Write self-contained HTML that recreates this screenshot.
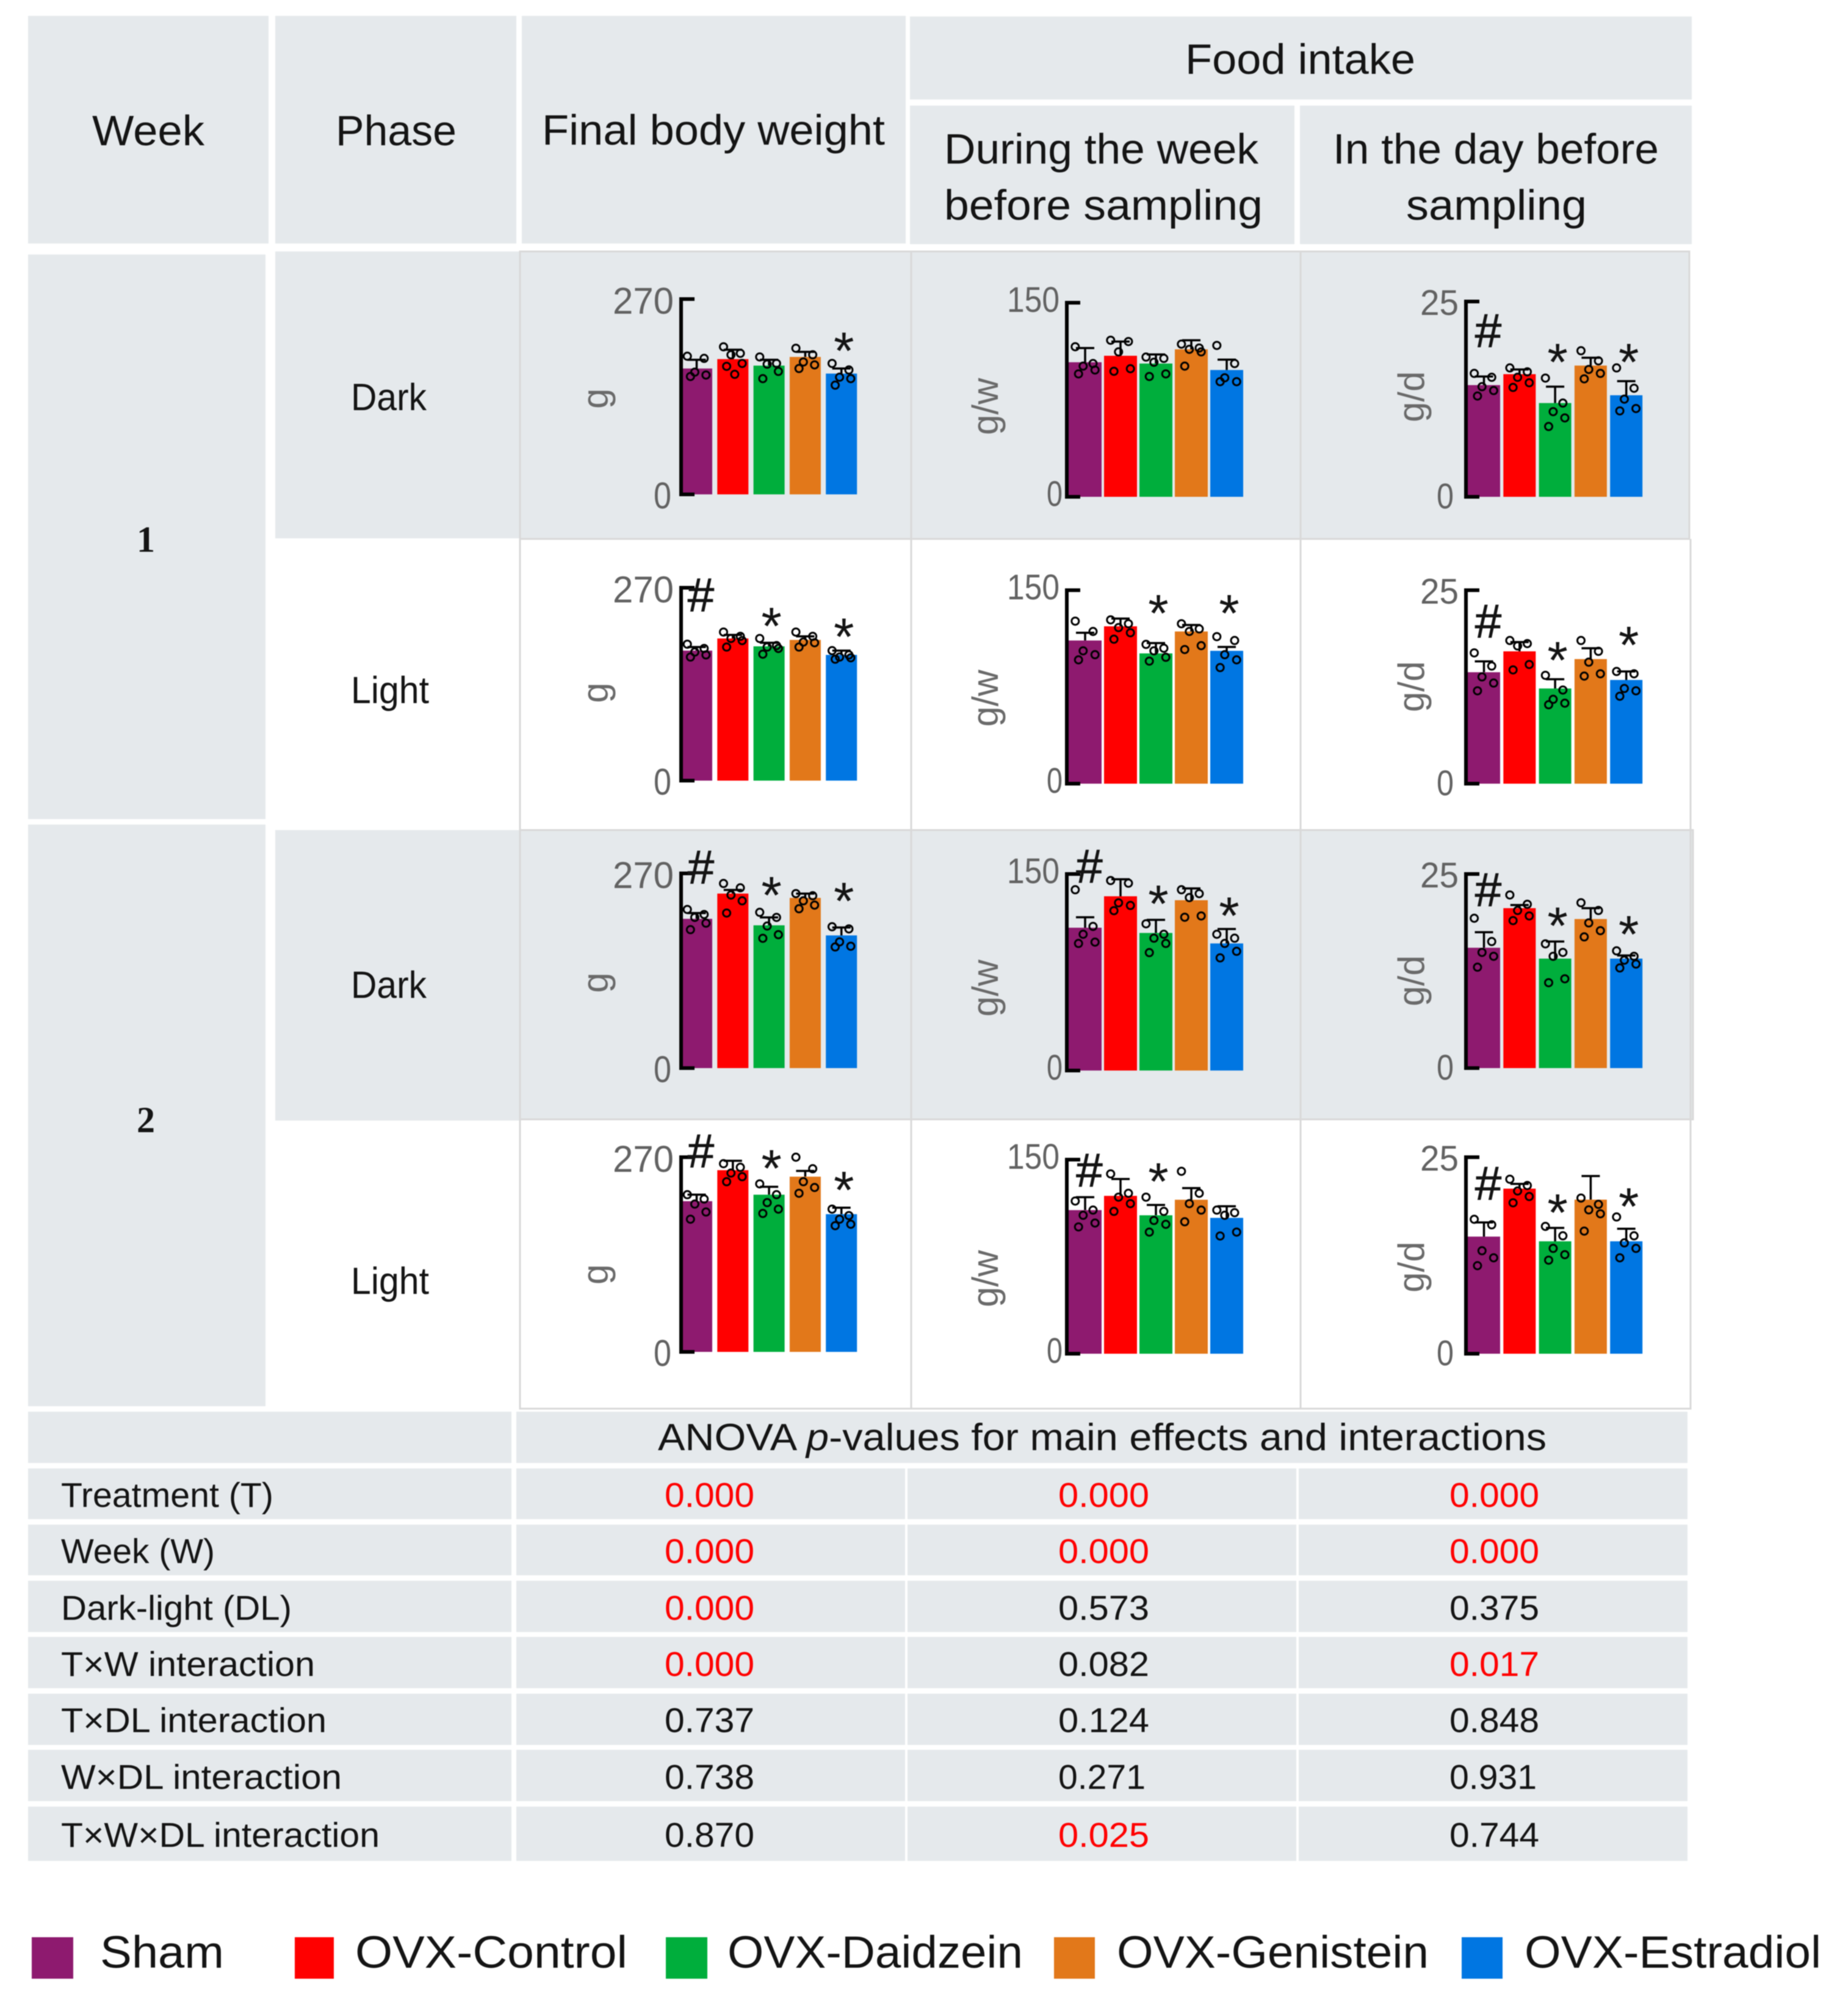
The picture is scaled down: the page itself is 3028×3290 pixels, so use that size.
<!DOCTYPE html>
<html lang="en">
<head>
<meta charset="utf-8">
<title>Body weight and food intake by week and phase</title>
<style>
html,body{margin:0;padding:0;background:#fff;width:3028px;height:3290px;overflow:hidden}
svg{display:block;filter:blur(0.9px)}
text{font-family:"Liberation Sans",sans-serif;fill:#141414}
.h{font-size:70px}
.p{font-size:62px}
.t{font-size:57px}
.r{fill:#ff0000}
.l{font-size:74px}
.c{fill:#e5e9ec}
</style>
</head>
<body>
<svg id="root" xmlns="http://www.w3.org/2000/svg" width="3028" height="3290" viewBox="0 0 3028 3290">
<rect width="3028" height="3290" fill="#fff"/>

<g>
<rect class="c" x="46" y="26" width="394" height="373"/>
<rect class="c" x="451" y="26" width="395" height="373"/>
<rect class="c" x="855" y="26" width="629" height="373"/>
<rect class="c" x="1491" y="27" width="1281" height="136"/>
<rect class="c" x="1491" y="173" width="630" height="227"/>
<rect class="c" x="2130" y="173" width="642" height="227"/>
<text class="h" x="151" y="238" textLength="184" lengthAdjust="spacingAndGlyphs">Week</text>
<text class="h" x="550" y="238" textLength="198" lengthAdjust="spacingAndGlyphs">Phase</text>
<text class="h" x="888" y="237" textLength="562" lengthAdjust="spacingAndGlyphs">Final body weight</text>
<text class="h" x="1942" y="121" textLength="377" lengthAdjust="spacingAndGlyphs">Food intake</text>
<text class="h" x="1547" y="268" textLength="515" lengthAdjust="spacingAndGlyphs">During the week</text>
<text class="h" x="1547" y="360" textLength="522" lengthAdjust="spacingAndGlyphs">before sampling</text>
<text class="h" x="2184" y="268" textLength="534" lengthAdjust="spacingAndGlyphs">In the day before</text>
<text class="h" x="2304" y="360" textLength="296" lengthAdjust="spacingAndGlyphs">sampling</text>
</g>

<g>
<rect class="c" x="46" y="417" width="389" height="925"/>
<rect class="c" x="46" y="1351" width="389" height="953"/>
<rect class="c" x="451" y="412" width="402" height="470"/>
<rect class="c" x="451" y="1360" width="402" height="476"/>
<text x="239" y="904" text-anchor="middle" font-size="60" font-weight="700" style="font-family:'Liberation Serif',serif">1</text>
<text x="239" y="1855" text-anchor="middle" font-size="60" font-weight="700" style="font-family:'Liberation Serif',serif">2</text>
<text class="p" x="575" y="672" textLength="124" lengthAdjust="spacingAndGlyphs">Dark</text>
<text class="p" x="575" y="1152" textLength="128" lengthAdjust="spacingAndGlyphs">Light</text>
<text class="p" x="575" y="1635" textLength="124" lengthAdjust="spacingAndGlyphs">Dark</text>
<text class="p" x="575" y="2120" textLength="128" lengthAdjust="spacingAndGlyphs">Light</text>
</g>

<g id="panel-backgrounds">
<rect class="c" x="852" y="412" width="1916" height="471"/>
<rect class="c" x="852" y="1360" width="1922" height="474"/>
<path fill="none" stroke="#d9d9d9" stroke-width="3" d="M852 412H2768V883H852ZM1493 412V2308M2131 412V2308M852 883V2308H2770V883M852 1360H2774V1834H852M2770 883V1360"/>
</g>

<g id="panels"></g>

<g>
<rect class="c" x="46" y="2313" width="792" height="84"/>
<rect class="c" x="846" y="2313" width="1919" height="84"/>
<text class="t" x="1078" y="2376" textLength="1456" lengthAdjust="spacingAndGlyphs" style="font-size:62px">ANOVA <tspan font-style="italic">p</tspan>-values for main effects and interactions</text>

<g>
<rect class="c" x="46" y="2406" width="792" height="83"/><rect class="c" x="846" y="2406" width="637" height="83"/><rect class="c" x="1487" y="2406" width="637" height="83"/><rect class="c" x="2128" y="2406" width="637" height="83"/>
<text class="t" x="100" y="2469" textLength="348" lengthAdjust="spacingAndGlyphs">Treatment (T)</text>
<text class="t r" x="1089" y="2469" textLength="147" lengthAdjust="spacingAndGlyphs">0.000</text>
<text class="t r" x="1734" y="2469" textLength="149" lengthAdjust="spacingAndGlyphs">0.000</text>
<text class="t r" x="2375" y="2469" textLength="147" lengthAdjust="spacingAndGlyphs">0.000</text>
</g>
<g>
<rect class="c" x="46" y="2498" width="792" height="83"/><rect class="c" x="846" y="2498" width="637" height="83"/><rect class="c" x="1487" y="2498" width="637" height="83"/><rect class="c" x="2128" y="2498" width="637" height="83"/>
<text class="t" x="100" y="2561" textLength="252" lengthAdjust="spacingAndGlyphs">Week (W)</text>
<text class="t r" x="1089" y="2561" textLength="147" lengthAdjust="spacingAndGlyphs">0.000</text>
<text class="t r" x="1734" y="2561" textLength="149" lengthAdjust="spacingAndGlyphs">0.000</text>
<text class="t r" x="2375" y="2561" textLength="147" lengthAdjust="spacingAndGlyphs">0.000</text>
</g>
<g>
<rect class="c" x="46" y="2590" width="792" height="84"/><rect class="c" x="846" y="2590" width="637" height="84"/><rect class="c" x="1487" y="2590" width="637" height="84"/><rect class="c" x="2128" y="2590" width="637" height="84"/>
<text class="t" x="100" y="2654" textLength="378" lengthAdjust="spacingAndGlyphs">Dark-light (DL)</text>
<text class="t r" x="1089" y="2654" textLength="147" lengthAdjust="spacingAndGlyphs">0.000</text>
<text class="t" x="1734" y="2654" textLength="149" lengthAdjust="spacingAndGlyphs">0.573</text>
<text class="t" x="2375" y="2654" textLength="147" lengthAdjust="spacingAndGlyphs">0.375</text>
</g>
<g>
<rect class="c" x="46" y="2682" width="792" height="84"/><rect class="c" x="846" y="2682" width="637" height="84"/><rect class="c" x="1487" y="2682" width="637" height="84"/><rect class="c" x="2128" y="2682" width="637" height="84"/>
<text class="t" x="100" y="2746" textLength="416" lengthAdjust="spacingAndGlyphs">T×W interaction</text>
<text class="t r" x="1089" y="2746" textLength="147" lengthAdjust="spacingAndGlyphs">0.000</text>
<text class="t" x="1734" y="2746" textLength="149" lengthAdjust="spacingAndGlyphs">0.082</text>
<text class="t r" x="2375" y="2746" textLength="147" lengthAdjust="spacingAndGlyphs">0.017</text>
</g>
<g>
<rect class="c" x="46" y="2775" width="792" height="84"/><rect class="c" x="846" y="2775" width="637" height="84"/><rect class="c" x="1487" y="2775" width="637" height="84"/><rect class="c" x="2128" y="2775" width="637" height="84"/>
<text class="t" x="100" y="2838" textLength="435" lengthAdjust="spacingAndGlyphs">T×DL interaction</text>
<text class="t" x="1089" y="2838" textLength="147" lengthAdjust="spacingAndGlyphs">0.737</text>
<text class="t" x="1734" y="2838" textLength="149" lengthAdjust="spacingAndGlyphs">0.124</text>
<text class="t" x="2375" y="2838" textLength="147" lengthAdjust="spacingAndGlyphs">0.848</text>
</g>
<g>
<rect class="c" x="46" y="2867" width="792" height="84"/><rect class="c" x="846" y="2867" width="637" height="84"/><rect class="c" x="1487" y="2867" width="637" height="84"/><rect class="c" x="2128" y="2867" width="637" height="84"/>
<text class="t" x="100" y="2931" textLength="460" lengthAdjust="spacingAndGlyphs">W×DL interaction</text>
<text class="t" x="1089" y="2931" textLength="147" lengthAdjust="spacingAndGlyphs">0.738</text>
<text class="t" x="1734" y="2931" textLength="143" lengthAdjust="spacingAndGlyphs">0.271</text>
<text class="t" x="2375" y="2931" textLength="143" lengthAdjust="spacingAndGlyphs">0.931</text>
</g>
<g>
<rect class="c" x="46" y="2960" width="792" height="89"/><rect class="c" x="846" y="2960" width="637" height="89"/><rect class="c" x="1487" y="2960" width="637" height="89"/><rect class="c" x="2128" y="2960" width="637" height="89"/>
<text class="t" x="100" y="3026" textLength="522" lengthAdjust="spacingAndGlyphs">T×W×DL interaction</text>
<text class="t" x="1089" y="3026" textLength="147" lengthAdjust="spacingAndGlyphs">0.870</text>
<text class="t r" x="1734" y="3026" textLength="149" lengthAdjust="spacingAndGlyphs">0.025</text>
<text class="t" x="2375" y="3026" textLength="147" lengthAdjust="spacingAndGlyphs">0.744</text>
</g>
</g>

<g>
<g><rect x="52" y="3174" width="68" height="68" fill="#8e1a6f"/><text class="l" x="164" y="3224" textLength="203" lengthAdjust="spacingAndGlyphs">Sham</text></g>
<g><rect x="483" y="3174" width="64" height="68" fill="#ff0000"/><text class="l" x="582" y="3224" textLength="446" lengthAdjust="spacingAndGlyphs">OVX-Control</text></g>
<g><rect x="1091" y="3174" width="68" height="68" fill="#00ae3c"/><text class="l" x="1192" y="3224" textLength="484" lengthAdjust="spacingAndGlyphs">OVX-Daidzein</text></g>
<g><rect x="1727" y="3174" width="67" height="68" fill="#e2781a"/><text class="l" x="1830" y="3224" textLength="511" lengthAdjust="spacingAndGlyphs">OVX-Genistein</text></g>
<g><rect x="2395" y="3174" width="67" height="68" fill="#0076e2"/><text class="l" x="2498" y="3224" textLength="486" lengthAdjust="spacingAndGlyphs">OVX-Estradiol</text></g>
</g>
</svg>

<script>
/* ---- data, in axis units; panels run row by row: final weight, weekly intake, daily intake ---- */
const groupNames = ["sham", "ovx-control", "ovx-daidzein", "ovx-genistein", "ovx-estradiol"];
const panelNames = [
  "w1-dark-weight", "w1-dark-week-intake", "w1-dark-day-intake",
  "w1-light-weight", "w1-light-week-intake", "w1-light-day-intake",
  "w2-dark-weight", "w2-dark-week-intake", "w2-dark-day-intake",
  "w2-light-weight", "w2-light-week-intake", "w2-light-day-intake"
];
const yTickLabels = [["0", "270"], ["0", "150"], ["0", "25"]];
const yAxisTitles = ["g", "g/w", "g/d"];

const barMeans = [
  [174, 187, 178, 190, 167], [104, 109, 103, 114, 98], [14.3, 15.7, 12.0, 16.8, 13.0],
  [182, 199, 188, 197, 176], [111, 122, 101, 118, 103], [14.4, 17.1, 12.3, 16.1, 13.4],
  [207, 242, 198, 236, 184], [109, 133, 105, 130, 97], [15.5, 20.6, 14.1, 19.2, 14.1],
  [209, 252, 218, 243, 191], [111, 122, 107, 119, 105], [14.9, 21.0, 14.3, 19.6, 14.3]
];
const errorTops = [
  [186, 200, 186, 197, 174], [115, 120, 110, 121, 106], [15.4, 16.3, 14.1, 17.8, 14.8],
  [187, 204, 193, 202, 182], [117, 128, 109, 123, 106], [15.8, 18.3, 13.5, 17.5, 14.5],
  [215, 247, 209, 242, 195], [117, 146, 115, 139, 108], [17.5, 21.0, 16.3, 20.6, 14.5],
  [218, 265, 229, 251, 200], [121, 135, 115, 128, 114], [16.7, 21.6, 16.0, 22.6, 15.9]
];
const w1DarkDots = [
  [[191, 188, 169, 165, 163], [204, 195, 193, 181, 177, 166], [190, 181, 180, 170, 160], [202, 193, 183, 179, 174], [181, 172, 162, 160, 151]],
  [[116, 103, 101, 98, 95], [121, 120, 112, 99, 97], [108, 107, 104, 95, 93], [118, 115, 114, 112, 101], [117, 103, 92, 89, 89]],
  [[15.8, 15.3, 14.1, 13.6, 12.9], [16.5, 16.0, 15.3, 14.6, 14.0], [15.2, 12.0, 10.9, 10.1, 9.0], [18.7, 17.4, 16.3, 15.8, 15.1], [16.5, 13.9, 12.5, 11.3, 11.0]]
];
const w1LightDots = [
  [[191, 185, 180, 176, 173], [208, 202, 199, 196, 187], [199, 189, 187, 185, 177], [208, 202, 194, 193, 187], [182, 176, 173, 172, 170]],
  [[126, 118, 103, 100, 96], [127, 124, 121, 117, 112], [108, 105, 103, 98, 95], [124, 120, 118, 107, 104], [114, 111, 100, 96, 90]],
  [[16.9, 15.2, 13.8, 13.0, 12.0], [18.5, 18.1, 17.8, 15.4, 14.7], [14.0, 12.1, 10.9, 10.4, 10.2], [18.5, 17.1, 15.7, 14.2, 13.9], [14.5, 14.2, 12.3, 12.0, 11.3]]
];
const w2DarkDots = [
  [[220, 213, 209, 201, 192], [256, 250, 240, 232, 215], [216, 209, 197, 185, 180], [242, 239, 232, 226, 221], [196, 193, 175, 169, 168]],
  [[138, 110, 104, 98, 97], [145, 143, 128, 126, 122], [112, 104, 101, 97, 90], [138, 135, 132, 118, 117], [104, 101, 97, 91, 86]],
  [[19.3, 16.3, 14.9, 14.4, 13.0], [22.3, 21.1, 20.3, 19.6, 19.0], [16.0, 14.9, 14.4, 11.5, 11.0], [21.3, 20.3, 18.7, 17.7, 16.9], [15.1, 14.4, 13.9, 13.4, 12.9]]
];
const w2LightDots = [
  [[218, 212, 205, 194, 184], [261, 256, 248, 243, 236], [233, 218, 207, 198, 192], [270, 254, 236, 228, 220], [198, 189, 184, 177, 175]],
  [[118, 111, 107, 101, 98], [139, 124, 121, 116, 110], [121, 110, 103, 100, 94], [141, 124, 116, 111, 102], [111, 109, 107, 94, 91]],
  [[17.1, 16.4, 13.1, 12.2, 11.2], [22.2, 21.4, 20.7, 20.0, 19.2], [16.2, 15.0, 13.4, 12.6, 11.9], [19.8, 19.0, 18.3, 17.8, 15.6], [17.4, 15.0, 14.1, 13.4, 12.2]]
];
const sampleDots = [...w1DarkDots, ...w1LightDots, ...w2DarkDots, ...w2LightDots];

/* significance markers per panel: [group index, axis value of the symbol centre] */
const hashMarkers = [null, null, [0, 21.3], [0, 260], null, [0, 21], [0, 279], [0, 156], [0, 23], [0, 279], [0, 142], [0, 21.7]];
const starMarkers = [
  [[4, 209]], [], [[2, 18.2], [4, 18.2]],
  [[2, 227], [4, 212]], [[2, 138], [4, 138]], [[2, 16.9], [4, 18.9]],
  [[2, 250], [4, 242]], [[2, 133], [4, 124]], [[2, 19.3], [4, 18.2]],
  [[2, 265], [4, 235]], [[2, 139]], [[2, 18.9], [4, 19.7]]
];

/* ---- layout ---- */
const barColors = ["#8e1a6f", "#ff0000", "#00ae3c", "#e2781a", "#0076e2"];
const plotLeft = [1116, 1751, 2405];
const spineX = [1116, 1748, 2402];
const barStep = [59.3, 58, 58.3];
const barWidth = [51, 54, 53];
const plotTops = [490, 496, 494, 963, 967, 967, 1431, 1432, 1432, 1896, 1900, 1896];
const plotBottoms = [810, 814, 814, 1279, 1284, 1284, 1750, 1754, 1750, 2215, 2218, 2218];
const titleCenterY = [653, 666, 650, 1135, 1144, 1125, 1610, 1619, 1607, 2088, 2095, 2076];
const titleCenterX = [987, 1626, 2324];
const topTickWidth = [100, 86, 63];
const zeroTickWidth = [29, 26, 28];
const zeroTickGap = [16, 7, 20];
const tickFontSize = [61, 58, 58];
const topTickDrop = [24, 15, 22];
const zeroTickDrop = [23, 15, 19];
const dotSpread = [-0.3, 0.24, -0.06, 0.3, -0.2, 0.06];

const NS = "http://www.w3.org/2000/svg";
const panelsRoot = document.getElementById("panels");

function make(tag, parent, attrs) {
  const el = document.createElementNS(NS, tag);
  for (const k in attrs) el.setAttribute(k, attrs[k]);
  parent.appendChild(el);
  return el;
}

function drawPanel(p) {
  const col = p % 3;
  const top = plotTops[p];
  const bottom = plotBottoms[p];
  const axisMax = parseFloat(yTickLabels[col][1]);
  const yScale = v => bottom - (v / axisMax) * (bottom - top);
  const xBar = i => plotLeft[col] + i * barStep[col];
  const xMid = i => xBar(i) + barWidth[col] / 2;

  const g = make("g", panelsRoot, {});
  
  

  barMeans[p].forEach((v, i) => {
    const bar = make("rect", g, { x: xBar(i), y: yScale(v), width: barWidth[col], height: bottom - yScale(v), fill: barColors[i] });
    
    
  });

  const axis = make("path", g, {
    d: "M" + (spineX[col] + 22) + " " + top + "H" + spineX[col] + "V" + bottom + "H" + (spineX[col] + 22),
    fill: "none", stroke: "#000", "stroke-width": 6
  });
  
  

  const zeroTick = make("text", g, {
    x: spineX[col] - zeroTickGap[col] - zeroTickWidth[col], y: bottom + zeroTickDrop[col], "font-size": tickFontSize[col],
    textLength: zeroTickWidth[col], lengthAdjust: "spacingAndGlyphs", style: "fill:#626262"
  });
  zeroTick.textContent = yTickLabels[col][0];
  
  

  const maxTick = make("text", g, {
    x: spineX[col] - 12 - topTickWidth[col], y: top + topTickDrop[col], "font-size": tickFontSize[col],
    textLength: topTickWidth[col], lengthAdjust: "spacingAndGlyphs", style: "fill:#626262"
  });
  maxTick.textContent = yTickLabels[col][1];
  
  

  const tx = titleCenterX[col] + 9;
  const ty = titleCenterY[p];
  const title = make("text", g, { x: tx, y: ty, "text-anchor": "middle", "font-size": 60, transform: "rotate(-90 " + tx + " " + ty + ")", style: "fill:#6a6a6a" });
  title.textContent = yAxisTitles[col];
  
  

  errorTops[p].forEach((v, i) => {
    const err = make("path", g, {
      d: "M" + xMid(i) + " " + yScale(barMeans[p][i]) + "V" + yScale(v) + "M" + (xMid(i) - 15) + " " + yScale(v) + "H" + (xMid(i) + 15),
      fill: "none", stroke: "#000", "stroke-width": 3.5
    });
    
    
  });

  sampleDots[p].forEach((vals, i) => {
    vals.forEach((v, j) => {
      const dot = make("circle", g, {
        cx: xMid(i) + dotSpread[j % dotSpread.length] * barWidth[col],
        cy: yScale(v), r: 6, fill: "none", stroke: "#000", "stroke-width": 3
      });
      
      
    });
  });

  if (hashMarkers[p]) {
    const [i, v] = hashMarkers[p];
    const hash = make("text", g, { x: xMid(i) + 7, y: yScale(v) + 27, "text-anchor": "middle", "font-size": 78, style: "fill:#141414;stroke:#141414;stroke-width:1" });
    hash.textContent = "#";
    
    
  }
  starMarkers[p].forEach(([i, v]) => {
    const star = make("text", g, { x: xMid(i) + 4, y: yScale(v) + 42, "text-anchor": "middle", "font-size": 86 });
    star.textContent = "*";
    
    
  });
}

panelNames.forEach((_, p) => drawPanel(p));
</script>
</body>
</html>
